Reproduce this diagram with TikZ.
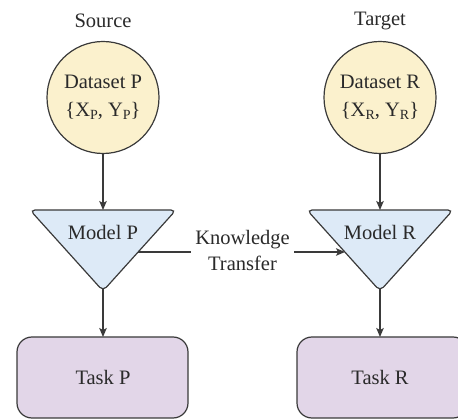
\documentclass[tikz,border=0pt]{standalone}
\usepackage{fontspec}
\setmainfont{Liberation Serif}
\usetikzlibrary{arrows.meta}
\definecolor{lineC}{HTML}{3A3A3A}
\definecolor{txtC}{HTML}{2A2A2A}
\definecolor{dataC}{HTML}{FBF1CD}
\definecolor{modelC}{HTML}{DDEAF7}
\definecolor{taskC}{HTML}{E2D6E8}
\newcommand{\lowsub}[1]{\raisebox{-3.5pt}{\fontsize{14pt}{14pt}\selectfont #1}}
\tikzset{
  conn/.style={draw=lineC, line width=1.3pt, -{Stealth[length=9pt,width=7.5pt,inset=2pt]}},
  dataset/.style={circle, draw=lineC, line width=1.2pt, fill=dataC, minimum size=112pt, inner sep=0pt, align=center, text=txtC},
  tri/.style={draw=lineC, line width=1.2pt, fill=modelC, rounded corners=5pt},
  taskbox/.style={draw=lineC, line width=1.2pt, fill=taskC, rounded corners=15pt},
  lbl/.style={text=txtC, inner sep=0pt},
  every node/.style={font=\fontsize{20.5pt}{25pt}\selectfont}
}
\begin{document}
\begin{tikzpicture}[x=1pt,y=1pt]
\useasboundingbox (0,0) rectangle (458,-419);
\clip (0,0) rectangle (458,-419);
% titles
\node[lbl] (src) at (103,-21) {Source};
\node[lbl] (tgt) at (380,-21) {Target};
% datasets
\node[dataset] (dp) at (103,-97.5) {Dataset P\\[3pt]\{X\lowsub{P}, Y\lowsub{P}\}};
\node[dataset] (dr) at (380,-97.5) {Dataset R\\[3pt]\{X\lowsub{R}, Y\lowsub{R}\}};
% model triangles
\filldraw[tri] (30,-210) -- (176,-210) -- (103,-291) -- cycle;
\filldraw[tri] (307,-210) -- (453,-210) -- (380,-291) -- cycle;
\node[lbl] (mp) at (103,-232) {Model P};
\node[lbl] (mr) at (380,-232) {Model R};
\coordinate (mptop) at (103,-210);
\coordinate (mpbot) at (103,-288);
\coordinate (mpside) at (138,-252);
\coordinate (mrtop) at (380,-210);
\coordinate (mrbot) at (380,-288);
\coordinate (mrside) at (345,-252);
% tasks
\filldraw[taskbox] (17,-337) rectangle (188,-418);
\filldraw[taskbox] (297,-337) rectangle (468,-418);
\node[lbl] (tp) at (103,-377.5) {Task P};
\node[lbl] (tr) at (380,-377.5) {Task R};
\coordinate (tptop) at (103,-337);
\coordinate (trtop) at (380,-337);
% connectors
\draw[conn] (dp.south) -- (mptop);
\draw[conn] (dr.south) -- (mrtop);
\draw[conn] (mpbot) -- (tptop);
\draw[conn] (mrbot) -- (trtop);
\draw[conn] (mpside) -- (mrside);
\node[fill=white, inner sep=4pt, align=center, text=txtC, font=\fontsize{20.5pt}{26pt}\selectfont] (kt) at (242.5,-250) {Knowledge\\Transfer};
\end{tikzpicture}
\end{document}
